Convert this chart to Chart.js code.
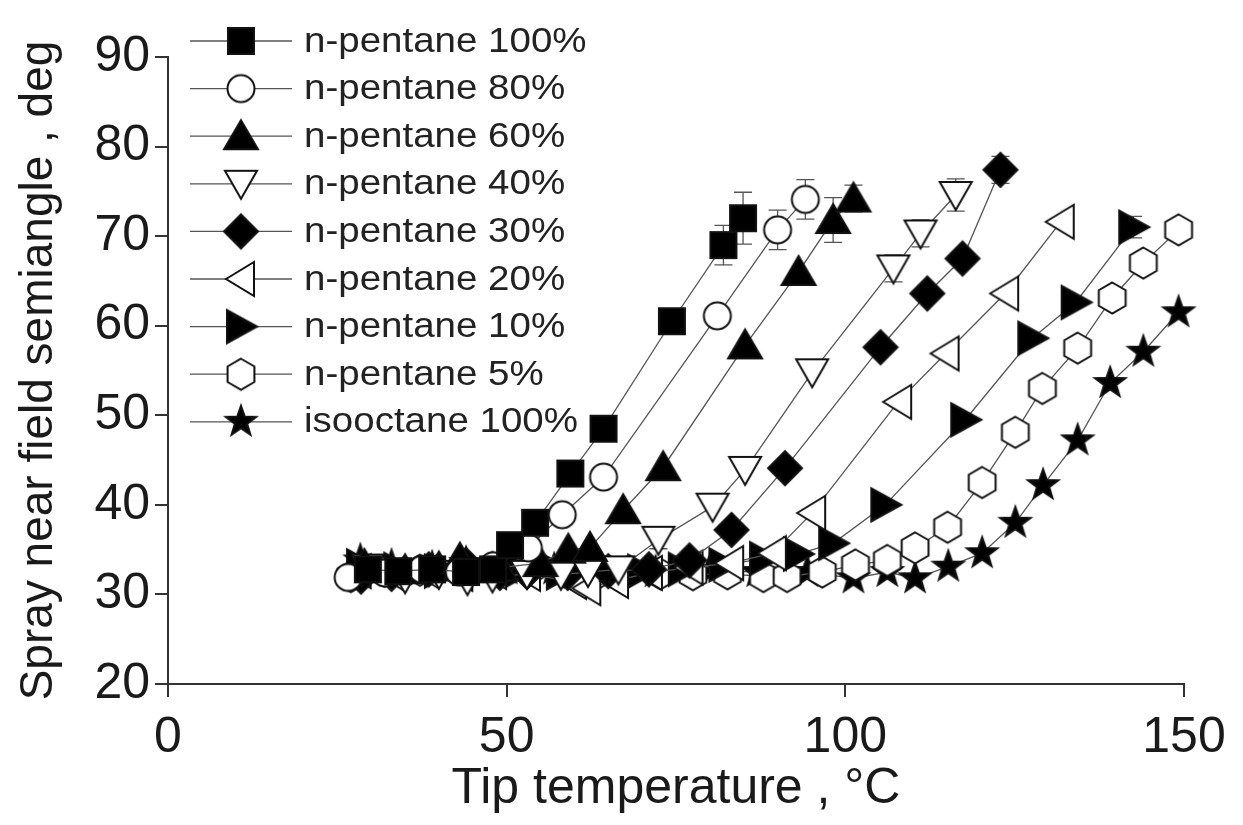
<!DOCTYPE html>
<html><head><meta charset="utf-8">
<script src="https://cdn.jsdelivr.net/npm/chart.js@4.4.0/dist/chart.umd.min.js"></script>
<style>html,body{margin:0;padding:0;background:#fff;}#wrap{width:1243px;height:825px;}</style>
</head><body><div id="wrap"><canvas id="c" width="1243" height="825"></canvas></div>
<script>
// ---- data: [x (°C), y (deg), optional error] ----
const labels = ['n-pentane 100%','n-pentane 80%','n-pentane 60%','n-pentane 40%','n-pentane 30%','n-pentane 20%','n-pentane 10%','n-pentane 5%','isooctane 100%'];
const p100 = [[29.5,32.8],[34,32.6],[39,32.8],[44,32.5],[48,32.8],[50.5,35.5],[54.2,38.0],[59.4,43.5],[64.3,48.5,0.8],[74.4,60.5,1.2],[82.0,69.0,2.2],[84.9,72.0,2.9]];
const p80 = [[26.6,31.9],[32,32.4],[37.5,32.8],[43,32.5],[48,33.2],[53.2,35.2],[58.2,38.9],[64.3,43.1],[81.1,61.1],[90.0,70.7,2.2],[94.1,74.1,2.2]];
const p60 = [[29,33.3],[35,32.7],[40,33],[43.1,34],[49,33],[55,33.5],[59.1,35.0],[62.3,35.2],[67.2,39.4],[73.1,44.2],[85.2,57.8],[93.1,66.0],[98.2,71.8,2.5],[101.2,74.2,1.5]];
const p40 = [[29.5,33],[35,31.8],[40,32.3],[44.2,31.6],[47.9,31.9],[53,32.3],[58,32.2],[62,32.5],[66.5,32.8],[72.4,36.1,1.0],[80.4,39.8],[85.2,43.9],[95.1,54.8],[107.1,66.4,1.5],[111.1,70.3,1.5],[116.3,74.6,1.8]];
const p30 = [[28.5,32.0],[33,32.3],[38.5,32.8],[44,33.3],[49,32.4],[53,32.5],[59,32.4],[65,32.6],[71,32.8],[77,33.8],[83.2,37.2],[91.1,44.1],[105.2,57.6],[112.1,63.6],[117.3,67.5],[122.9,77.4,1.5]];
const p20 = [[28,32.6],[33,32.3],[38,32.6],[43,32.3],[48,32.5],[53,32.3],[59.8,31.4],[61.9,30.7],[66,31.5],[71,32.4],[77,33],[83,33.5],[89.3,34.6],[95.1,39.1],[107.8,51.5],[114.8,56.9],[123.6,63.6],[131.8,71.6]];
const p10 = [[28.5,33.2],[34,32.8],[40,32.6],[46,32.5],[52,32.7],[58,32.4],[64,32.4],[70,32.6],[76,32.8],[82,33.3],[88,34.0],[93,34.5],[98.2,35.7],[105.9,40.0],[117.7,49.5],[127.6,58.6],[134.0,62.6],[142.5,71.0,1.2]];
const p5 = [[27,32],[32,32.6],[37.2,32.7],[43.9,32.9],[47.9,33],[53.5,32.8],[58.5,32.5],[63.4,32.3],[67.8,32.5],[72.7,32.3],[77.5,32.2],[82.6,32.3],[87.9,32.0],[91.4,32.0],[96.6,32.5],[101.5,33.3],[106.2,33.8],[110.3,35.2],[115.1,37.5],[120.2,42.5],[125.1,48.1],[129.1,53.0],[134.3,57.5],[139.4,63.1],[144.0,67.0],[149.2,70.7,1.0]];
const iso = [[28.4,33.8],[33,33.2],[39,33],[44,33.5],[50,32.8],[57,32.8],[64,32.5],[72,32.5],[80,32.7],[87,32.5],[94.4,32.5],[101.2,31.8],[106.2,32.5],[110.3,31.8],[115.2,33.1],[120.2,34.6],[125.1,38.0],[129.2,42.2],[134.3,47.2],[139.1,53.6],[144.0,57.1],[149.2,61.5]];
const xTicks = [0,50,100,150];
const yTicks = [20,30,40,50,60,70,80,90];
const xTitle = 'Tip temperature , °C';
const yTitle = 'Spray near field semiangle , deg';

const series = [p100,p80,p60,p40,p30,p20,p10,p5,iso];
const shapes = [['square',true],['circle',false],['up',true],['down',false],['diamond',true],['left',false],['right',true],['hex',false],['star',true]];

function marker(shape, filled){
  const s=44, c=document.createElement('canvas'); c.width=s; c.height=s;
  const g=c.getContext('2d'); g.translate(s/2,s/2);
  g.lineWidth=2; g.strokeStyle='#111'; g.fillStyle=filled?'#000':'#fff'; g.lineJoin='miter';
  g.beginPath();
  switch(shape){
    case 'square': g.rect(-13,-13,26,26); break;
    case 'circle': g.arc(0,0,13.5,0,Math.PI*2); break;
    case 'up': g.moveTo(0,-16);g.lineTo(17,13);g.lineTo(-17,13);g.closePath(); break;
    case 'down': g.moveTo(0,15);g.lineTo(16,-13);g.lineTo(-16,-13);g.closePath(); break;
    case 'left': g.moveTo(-15,0);g.lineTo(13,-17);g.lineTo(13,17);g.closePath(); break;
    case 'right': g.moveTo(16,0);g.lineTo(-14,-16.5);g.lineTo(-14,16.5);g.closePath(); break;
    case 'diamond': g.moveTo(0,-17);g.lineTo(17,0);g.lineTo(0,17);g.lineTo(-17,0);g.closePath(); break;
    case 'hex': for(let i=0;i<6;i++){const a=-Math.PI/2+i*Math.PI/3; const px=15.5*Math.cos(a), py=15.5*Math.sin(a); i?g.lineTo(px,py):g.moveTo(px,py);} g.closePath(); break;
    case 'star': for(let i=0;i<10;i++){const a=-Math.PI/2+i*Math.PI/5; const r=i%2?6.5:16; const px=r*Math.cos(a), py=r*Math.sin(a); i?g.lineTo(px,py):g.moveTo(px,py);} g.closePath(); break;
  }
  g.fill(); g.stroke();
  return c;
}

const datasets = series.map((arr,i)=>{
  const img = marker(shapes[i][0], shapes[i][1]);
  return {
    label: labels[i],
    data: arr.map(p=>({x:p[0], y:p[1], err:p[2]||0})),
    showLine: true,
    borderColor: '#555',
    borderWidth: 1.3,
    pointStyle: img,
    pointRadius: 14,
    pointHoverRadius: 14,
    clip: false,
    tension: 0
  };
});

const FONT = '"Liberation Sans", Arial, sans-serif';

const errPlugin = {
  id:'errbars',
  beforeDatasetsDraw(chart){
    const ctx=chart.ctx, xs=chart.scales.x, ys=chart.scales.y;
    ctx.save(); ctx.strokeStyle='#555'; ctx.lineWidth=1.3;
    chart.data.datasets.forEach(ds=>{
      ds.data.forEach(p=>{
        if(!p.err) return;
        const x=xs.getPixelForValue(p.x), y1=ys.getPixelForValue(p.y+p.err), y2=ys.getPixelForValue(p.y-p.err);
        ctx.beginPath(); ctx.moveTo(x,y1); ctx.lineTo(x,y2);
        ctx.moveTo(x-9,y1); ctx.lineTo(x+9,y1); ctx.moveTo(x-9,y2); ctx.lineTo(x+9,y2); ctx.stroke();
      });
    });
    ctx.restore();
  }
};

const legendPlugin = {
  id:'legendDraw',
  afterDraw(chart){
    const ctx=chart.ctx;
    chart.data.datasets.forEach((ds,i)=>{
      const y = 41 + i*47.6;
      ctx.save();
      ctx.strokeStyle='#555'; ctx.lineWidth=1.3;
      ctx.beginPath(); ctx.moveTo(190,y); ctx.lineTo(292,y); ctx.stroke();
      const img=ds.pointStyle;
      ctx.drawImage(img, 241-img.width/2, y-img.height/2);
      ctx.fillStyle='#222'; ctx.font='35px '+FONT; ctx.textBaseline='middle';
      ctx.translate(304,y+1); ctx.scale(1.1,1);
      ctx.fillText(ds.label,0,0);
      ctx.restore();
    });
  }
};

new Chart(document.getElementById('c'), {
  type: 'scatter',
  data: { datasets },
  plugins: [errPlugin, legendPlugin],
  options: {
    responsive: false,
    animation: false,
    devicePixelRatio: 1,
    layout: { padding: { top: 57, right: 59, left: 0, bottom: 0 } },
    plugins: { legend: { display: false }, tooltip: { enabled: false } },
    scales: {
      x: {
        type: 'linear', min: 0, max: 150,
        afterBuildTicks: s => { s.ticks = xTicks.map(v=>({value:v})); },
        afterFit: s => { s.height = 141; },
        ticks: { font: { size: 50, family: FONT }, color: '#1a1a1a', padding: 11, maxRotation: 0 },
        grid: { drawOnChartArea: false, drawTicks: true, tickLength: 13, color: '#333', lineWidth: 2 },
        border: { display: true, color: '#333', width: 2 },
        title: { display: true, text: xTitle, font: { size: 50, family: FONT }, color: '#1a1a1a', padding: { top: 0, bottom: 6 } }
      },
      y: {
        type: 'linear', min: 20, max: 90,
        afterBuildTicks: s => { s.ticks = yTicks.map(v=>({value:v})); },
        afterFit: s => { s.width = 168; },
        ticks: { font: { size: 50, family: FONT }, color: '#1a1a1a', padding: 5 },
        grid: { drawOnChartArea: false, drawTicks: true, tickLength: 13, color: '#333', lineWidth: 2 },
        border: { display: true, color: '#333', width: 2 },
        title: { display: true, text: yTitle, font: { size: 46, family: FONT }, color: '#1a1a1a', padding: { top: 12, bottom: 0 } }
      }
    }
  }
});
</script>
</body></html>
